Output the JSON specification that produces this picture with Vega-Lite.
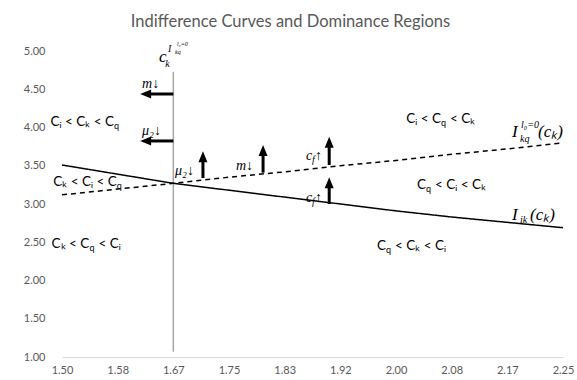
{
  "$schema": "https://vega.github.io/schema/vega-lite/v6.json",
  "width": 501,
  "height": 306,
  "autosize": "none",
  "padding": {"left": 62, "top": 51, "right": 14, "bottom": 23},
  "background": "white",
  "title": {"text": "Indifference Curves and Dominance Regions", "font": "Lato", "fontSize": 16.5, "fontWeight": "normal", "color": "#595959", "anchor": "middle", "frame": "group", "dx": -22, "offset": 11},
  "config": {
    "view": {"stroke": null},
    "axis": {"grid": false, "labelFont": "Lato", "labelFontSize": 11, "labelColor": "#595959", "ticks": false, "tickSize": 0}
  },
  "datasets": {
    "curves": [
      {"x": 1.5, "y": 3.51, "curve": "I_ik"},
      {"x": 1.583333, "y": 3.39, "curve": "I_ik"},
      {"x": 1.666667, "y": 3.27, "curve": "I_ik"},
      {"x": 1.75, "y": 3.18, "curve": "I_ik"},
      {"x": 1.833333, "y": 3.09, "curve": "I_ik"},
      {"x": 1.916667, "y": 3.0, "curve": "I_ik"},
      {"x": 2.0, "y": 2.91, "curve": "I_ik"},
      {"x": 2.083333, "y": 2.83, "curve": "I_ik"},
      {"x": 2.166667, "y": 2.76, "curve": "I_ik"},
      {"x": 2.25, "y": 2.69, "curve": "I_ik"},
      {"x": 1.5, "y": 3.12, "curve": "I_kq"},
      {"x": 1.583333, "y": 3.195, "curve": "I_kq"},
      {"x": 1.666667, "y": 3.27, "curve": "I_kq"},
      {"x": 1.75, "y": 3.35, "curve": "I_kq"},
      {"x": 1.833333, "y": 3.42, "curve": "I_kq"},
      {"x": 1.916667, "y": 3.50, "curve": "I_kq"},
      {"x": 2.0, "y": 3.57, "curve": "I_kq"},
      {"x": 2.083333, "y": 3.65, "curve": "I_kq"},
      {"x": 2.166667, "y": 3.72, "curve": "I_kq"},
      {"x": 2.25, "y": 3.80, "curve": "I_kq"}
    ],
    "vline": [{"x": 1.666667, "y": 4.73, "ye": 1.07}],
    "arrows": [
      {"dir": "up", "x": 1.711, "y": 3.69, "xe": 1.711, "ye": 3.34},
      {"dir": "up", "x": 1.801, "y": 3.77, "xe": 1.801, "ye": 3.41},
      {"dir": "up", "x": 1.900, "y": 3.88, "xe": 1.900, "ye": 3.51},
      {"dir": "up", "x": 1.900, "y": 3.35, "xe": 1.900, "ye": 3.00},
      {"dir": "left", "x": 1.617, "y": 4.438, "xe": 1.666667, "ye": 4.438},
      {"dir": "left", "x": 1.617, "y": 3.824, "xe": 1.666667, "ye": 3.824}
    ],
    "regions": [
      {"x": 1.578, "y": 4.072, "left": "Cᵢ < Cₖ < C", "right": ""},
      {"x": 1.582, "y": 3.288, "left": "Cₖ < Cᵢ < C", "right": ""},
      {"x": 1.541, "y": 2.477, "left": "Cₖ < C", "right": "< Cᵢ"},
      {"x": 2.0674, "y": 4.111, "left": "Cᵢ < C", "right": "< Cₖ"},
      {"x": 2.0449, "y": 3.248, "left": "C", "right": "< Cᵢ < Cₖ"},
      {"x": 1.985, "y": 2.451, "left": "C", "right": "< Cₖ < Cᵢ"}
    ],
    "math": [
      {"x": 1.6452, "y": 4.856, "t": "c", "role": "big"},
      {"x": 2.1737, "y": 3.876, "t": "I", "role": "big"},
      {"x": 2.2126, "y": 3.876, "t": "(cₖ)", "role": "big"},
      {"x": 2.1737, "y": 2.791, "t": "I", "role": "big"},
      {"x": 2.2006, "y": 2.791, "t": "(cₖ)", "role": "big"},
      {"x": 1.6545, "y": 4.79, "t": "k", "role": "sub"},
      {"x": 1.6587, "y": 4.987, "t": "I", "role": "sub"},
      {"x": 2.1856, "y": 3.810, "t": "kq", "role": "sub"},
      {"x": 2.1871, "y": 3.993, "t": "l₀=0", "role": "sub"},
      {"x": 2.1856, "y": 2.752, "t": "ik", "role": "sub"},
      {"x": 1.8743, "y": 3.536, "t": "f", "role": "sub"},
      {"x": 1.8743, "y": 2.987, "t": "f", "role": "sub"},
      {"x": 1.6692, "y": 4.961, "t": "kq", "role": "tiny"},
      {"x": 1.6722, "y": 5.065, "t": "l₀=0", "role": "tiny"},
      {"x": 1.6198, "y": 4.52, "t": "m↓", "role": "ann"},
      {"x": 1.6198, "y": 3.905, "t": "μ₂↓", "role": "ann"},
      {"x": 1.6692, "y": 3.379, "t": "μ₂↓", "role": "ann"},
      {"x": 1.7605, "y": 3.444, "t": "m↓", "role": "ann"},
      {"x": 1.8653, "y": 3.575, "t": "c", "role": "ann"},
      {"x": 1.8787, "y": 3.575, "t": "↑", "role": "ann"},
      {"x": 1.8653, "y": 3.026, "t": "c", "role": "ann"},
      {"x": 1.8787, "y": 3.026, "t": "↑", "role": "ann"}
    ]
  },
  "encoding": {
    "x": {
      "field": "x", "type": "quantitative",
      "scale": {"domain": [1.5, 2.25], "nice": false, "zero": false},
      "axis": {"title": null, "values": [1.5, 1.583333, 1.666667, 1.75, 1.833333, 1.916667, 2.0, 2.083333, 2.166667, 2.25], "format": ".2f", "domainColor": "#d9d9d9", "domainWidth": 1, "labelPadding": 7, "labelFlush": false}
    },
    "y": {
      "field": "y", "type": "quantitative",
      "scale": {"domain": [1, 5], "nice": false, "zero": false},
      "axis": {"title": null, "values": [1, 1.5, 2, 2.5, 3, 3.5, 4, 4.5, 5], "format": ".2f", "domain": false, "labelPadding": 17}
    }
  },
  "layer": [
    {
      "data": {"name": "vline"},
      "mark": {"type": "rule", "color": "#a6a6a6", "strokeWidth": 1.5},
      "encoding": {"y2": {"field": "ye"}}
    },
    {
      "data": {"name": "curves"},
      "mark": {"type": "line", "color": "black", "strokeWidth": 1.5},
      "encoding": {
        "detail": {"field": "curve"},
        "strokeDash": {"field": "curve", "type": "nominal", "scale": {"domain": ["I_ik", "I_kq"], "range": [[1, 0], [5, 4]]}, "legend": null}
      }
    },
    {
      "data": {"name": "arrows"},
      "transform": [{"filter": "datum.dir === 'up'"}],
      "mark": {"type": "rule", "color": "black", "strokeWidth": 3, "yOffset": 6},
      "encoding": {"y2": {"field": "ye"}}
    },
    {
      "data": {"name": "arrows"},
      "transform": [{"filter": "datum.dir === 'left'"}],
      "mark": {"type": "rule", "color": "black", "strokeWidth": 3, "xOffset": 6},
      "encoding": {"x2": {"field": "xe"}}
    },
    {
      "data": {"name": "arrows"},
      "transform": [{"filter": "datum.dir === 'up'"}],
      "mark": {"type": "point", "filled": true, "color": "black", "opacity": 1, "size": 100, "shape": "M0,0L0.9,2.2L-0.9,2.2Z"}
    },
    {
      "data": {"name": "arrows"},
      "transform": [{"filter": "datum.dir === 'left'"}],
      "mark": {"type": "point", "filled": true, "color": "black", "opacity": 1, "size": 100, "shape": "M0,0L2.2,-0.9L2.2,0.9Z"}
    },
    {
      "data": {"name": "regions"},
      "mark": {"type": "text", "font": "Lato", "fontSize": 13.5, "color": "black", "align": "right", "baseline": "middle"},
      "encoding": {"text": {"field": "left"}}
    },
    {
      "data": {"name": "regions"},
      "mark": {"type": "text", "font": "Lato", "fontSize": 9, "color": "black", "align": "left", "baseline": "middle", "dy": 4, "text": "q"}
    },
    {
      "data": {"name": "regions"},
      "mark": {"type": "text", "font": "Lato", "fontSize": 13.5, "color": "black", "align": "left", "baseline": "middle", "dx": 9},
      "encoding": {"text": {"field": "right"}}
    },
    {
      "data": {"name": "math"},
      "transform": [{"filter": "datum.role === 'big'"}],
      "mark": {"type": "text", "font": "Liberation Serif", "fontStyle": "italic", "fontSize": 17, "color": "black", "align": "left", "baseline": "alphabetic"},
      "encoding": {"text": {"field": "t"}}
    },
    {
      "data": {"name": "math"},
      "transform": [{"filter": "datum.role === 'sub'"}],
      "mark": {"type": "text", "font": "Liberation Serif", "fontStyle": "italic", "fontSize": 10, "color": "black", "align": "left", "baseline": "alphabetic"},
      "encoding": {"text": {"field": "t"}}
    },
    {
      "data": {"name": "math"},
      "transform": [{"filter": "datum.role === 'tiny'"}],
      "mark": {"type": "text", "font": "Liberation Serif", "fontStyle": "italic", "fontSize": 6, "color": "black", "align": "left", "baseline": "alphabetic"},
      "encoding": {"text": {"field": "t"}}
    },
    {
      "data": {"name": "math"},
      "transform": [{"filter": "datum.role === 'ann'"}],
      "mark": {"type": "text", "font": "Liberation Serif", "fontStyle": "italic", "fontSize": 14, "color": "black", "align": "left", "baseline": "alphabetic"},
      "encoding": {"text": {"field": "t"}}
    }
  ]
}
